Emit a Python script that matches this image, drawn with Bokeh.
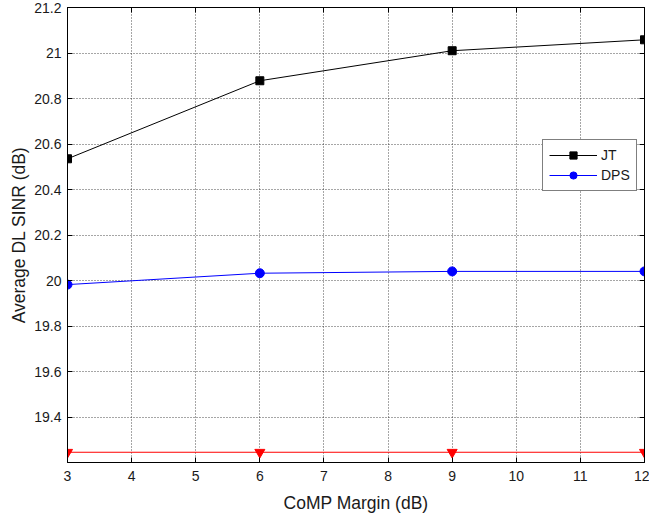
from bokeh.plotting import figure
from bokeh.models import (LinearAxis, FixedTicker, CustomJSTickFormatter, Legend, LegendItem,
                          Range1d, CustomLabelingPolicy)
from bokeh.embed import file_html
from bokeh.resources import INLINE

comp_margin = [3, 6, 9, 12]
jt_sinr = [20.535, 20.878, 21.01, 21.058]
dps_sinr = [19.982, 20.032, 20.04, 20.04]
third_sinr = [19.245, 19.245, 19.245, 19.245]
x_ticks = [3, 4, 5, 6, 7, 8, 9, 10, 11, 12]
y_ticks = [19.4, 19.6, 19.8, 20.0, 20.2, 20.4, 20.6, 20.8, 21.0, 21.2]

FONT = "Liberation Sans"

p = figure(width=649, height=519, output_backend="svg", toolbar_location=None,
           x_range=Range1d(3, 12), y_range=Range1d(19.2, 21.2),
           x_axis_label="CoMP Margin (dB)", y_axis_label="Average DL SINR (dB)",
           min_border_left=67, min_border_right=5, min_border_top=7, min_border_bottom=57,
           frame_width=577, frame_height=455)
p.outline_line_color = "black"
p.outline_line_width = 1
p.background_fill_color = "white"
p.border_fill_color = "white"

fmt = CustomJSTickFormatter(code="return parseFloat(tick.toFixed(2)).toString();")
for ax in p.xaxis:
    ax.ticker = FixedTicker(ticks=x_ticks)
    ax.formatter = fmt
for ax in p.yaxis:
    ax.ticker = FixedTicker(ticks=y_ticks)
    ax.formatter = fmt
for ax in p.xaxis + p.yaxis:
    ax.major_tick_in = 5
    ax.major_tick_out = 0
    ax.minor_tick_line_color = None
    ax.axis_line_color = "black"
    ax.major_label_text_font = FONT
    ax.major_label_text_font_size = "14px"
    ax.major_label_text_color = "#1a1a1a"
    ax.axis_label_text_font = FONT
    ax.axis_label_text_font_size = "17.5px"
    ax.axis_label_text_font_style = "normal"
    ax.axis_label_text_color = "#1a1a1a"
p.xaxis.major_label_standoff = 8
p.yaxis.major_label_standoff = 6
p.xaxis.axis_label_standoff = 9
p.yaxis.axis_label_standoff = 2

no_labels = CustomLabelingPolicy(code="""
const all = [...indices];
for (const i of all) indices.unset(i);
return indices;
""")
for loc, ticks in (("above", x_ticks), ("right", y_ticks)):
    ax = LinearAxis(ticker=FixedTicker(ticks=ticks), major_tick_in=5, major_tick_out=0,
                    minor_tick_line_color=None, major_label_text_font_size="1px",
                    major_label_policy=no_labels,
                    major_label_standoff=0, axis_line_color="black")
    p.add_layout(ax, loc)

p.xgrid.ticker = FixedTicker(ticks=x_ticks)
p.ygrid.ticker = FixedTicker(ticks=y_ticks)
p.grid.grid_line_color = "#222222"
p.grid.grid_line_dash = "1 2"
p.grid.grid_line_alpha = 0.8

l1 = p.line(comp_margin, jt_sinr, line_color="black", line_width=1)
m1 = p.scatter(comp_margin, jt_sinr, marker="square", size=8, fill_color="black", line_color="black")
l2 = p.line(comp_margin, dps_sinr, line_color="blue", line_width=1)
m2 = p.scatter(comp_margin, dps_sinr, marker="circle", size=9, fill_color="blue", line_color="blue")
p.line(comp_margin, third_sinr, line_color="red", line_width=1)
p.scatter(comp_margin, third_sinr, marker="inverted_triangle", size=10, fill_color="red", line_color="red")

legend = Legend(items=[LegendItem(label="JT", renderers=[l1, m1]),
                       LegendItem(label="DPS", renderers=[l2, m2])],
                location=(475, 271), orientation="vertical")
legend.label_text_font = FONT
legend.label_text_font_size = "14px"
legend.label_text_color = "#1a1a1a"
legend.glyph_width = 48
legend.glyph_height = 18
legend.label_height = 18
legend.label_standoff = 4
legend.padding = 6
legend.spacing = 2
legend.margin = 0
legend.border_line_color = "black"
legend.border_line_width = 1
legend.background_fill_color = "white"
legend.background_fill_alpha = 1
p.add_layout(legend, "center")

open("out.html", "w").write(file_html(p, INLINE))
